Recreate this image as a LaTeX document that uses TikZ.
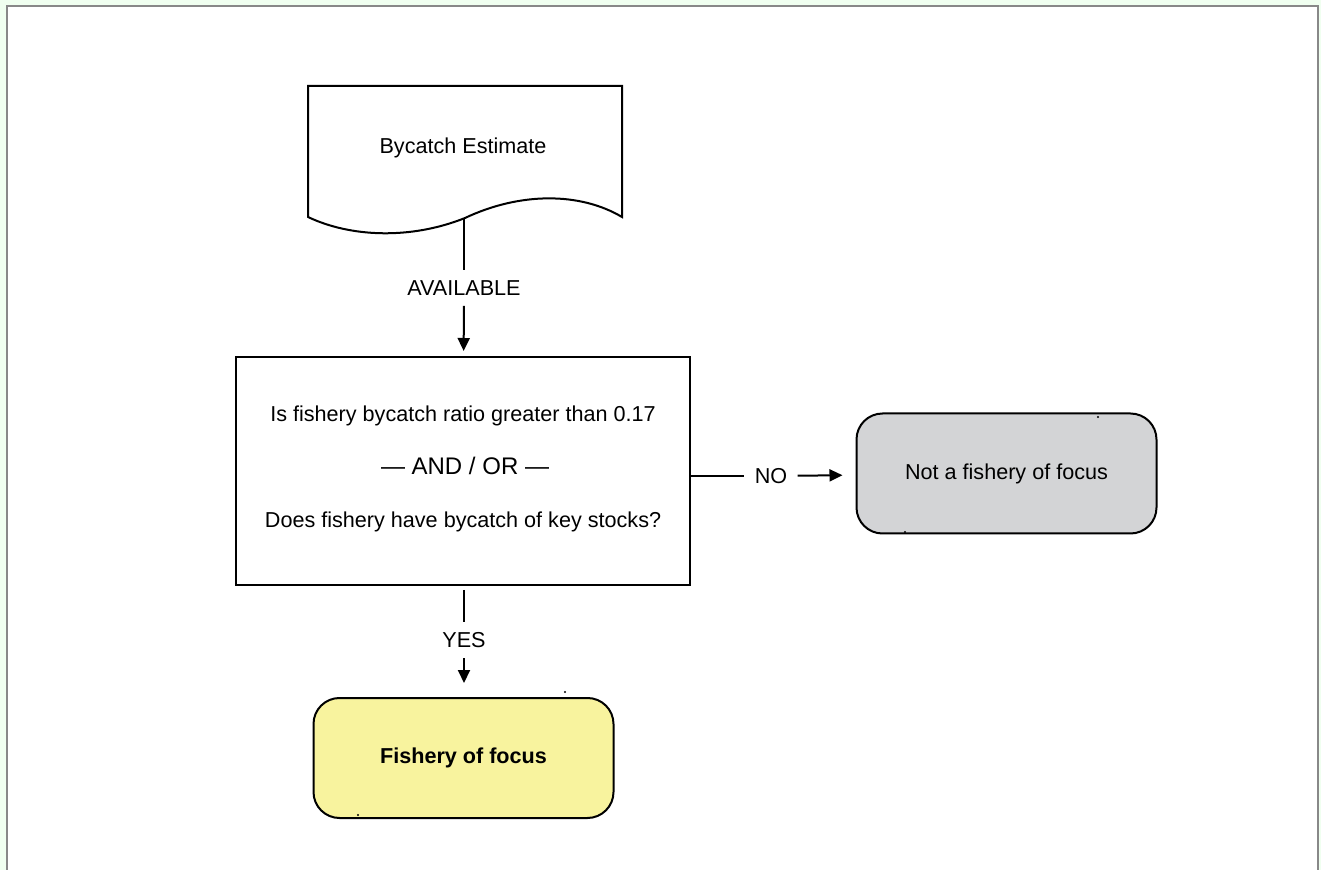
\documentclass[tikz,border=0pt]{standalone}
\usepackage{fontspec}
\setmainfont{Liberation Sans}
\usetikzlibrary{arrows.meta, positioning}
\definecolor{focusyellow}{RGB}{248,243,158}
\definecolor{notgray}{RGB}{211,212,214}
\definecolor{framegray}{RGB}{136,136,136}
\definecolor{bgmint}{RGB}{240,255,240}

\begin{document}
\begin{tikzpicture}[
    x=0.5pt, y=-0.5pt,
    txt/.style={inner sep=0pt, font=\fontsize{10.8}{13}\selectfont},
    lbl/.style={inner sep=5pt, font=\fontsize{10.8}{13}\selectfont},
    qbox/.style={rectangle, draw, line width=1pt, minimum width=227pt, minimum height=114pt},
    endbox/.style={rectangle, draw, line width=1pt, rounded corners=13pt, minimum width=150pt, minimum height=60pt, font=\fontsize{10.8}{13}\selectfont},
    line/.style={line width=1pt},
    arrow/.style={-{Triangle[length=6.5pt, width=6pt]}, line width=1pt},
    speck/.style={circle, fill, inner sep=0pt, minimum size=1.2pt}
]
    % Frame
    \fill[bgmint] (0,0) rectangle (1321,870);
    \useasboundingbox (0,0) rectangle (1321,870);
    \filldraw[fill=white, draw=framegray, line width=1pt] (6.5,880) -- (6.5,6) -- (1318,6) -- (1318,880);

    % Bycatch estimate (document)
    \draw[line, fill=white] (308,217) -- (308,86) -- (622,86) -- (622,217)
        .. controls (580,192) and (520,192) .. (465,218)
        .. controls (410,240) and (350,237) .. (308,217) -- cycle;
    \node[txt] (est) at (463,148) {Bycatch Estimate};
    \coordinate (est-bot) at (464,219);

    % Question
    \node[qbox] (quest) at (463,471) {};
    \node[txt] (q1) at (463,416) {Is fishery bycatch ratio greater than 0.17};
    \node[inner sep=0pt, font=\fontsize{12}{14}\selectfont] (q2) at (465,466) {— AND / OR —};
    \node[txt] (q3) at (463,522) {Does fishery have bycatch of key stocks?};

    \node[lbl] (avail) at (464,288) {AVAILABLE};
    \draw[line] (est-bot) -- (avail);
    \draw[arrow, shorten >=2.5pt] (avail) -- (quest);

    % Outcomes
    \node[endbox, fill=notgray] (notfocus) at (1006.5,473.5) {Not a fishery of focus};
    \node[endbox, fill=focusyellow, font=\fontsize{10.8}{13}\selectfont\bfseries] (focus) at (463.5,758) {Fishery of focus};

    \node[lbl, inner xsep=5pt] (no) at (771,476) {NO};
    \draw[line] (quest.east |- no) -- (no);
    \draw[arrow, shorten >=6.5pt] (no) -- (notfocus);

    \node[lbl] (yes) at (464,640) {YES};
    \draw[line, shorten <=2pt] (quest.south -| yes) -- (yes);
    \draw[arrow, shorten >=7pt] (yes) -- (focus.north -| yes);

    % stray specks
    \node[speck] at (1098,417) {};
    \node[speck] at (905,532) {};
    \node[speck] at (565,692) {};
    \node[speck] at (358,815) {};
\end{tikzpicture}
\end{document}
